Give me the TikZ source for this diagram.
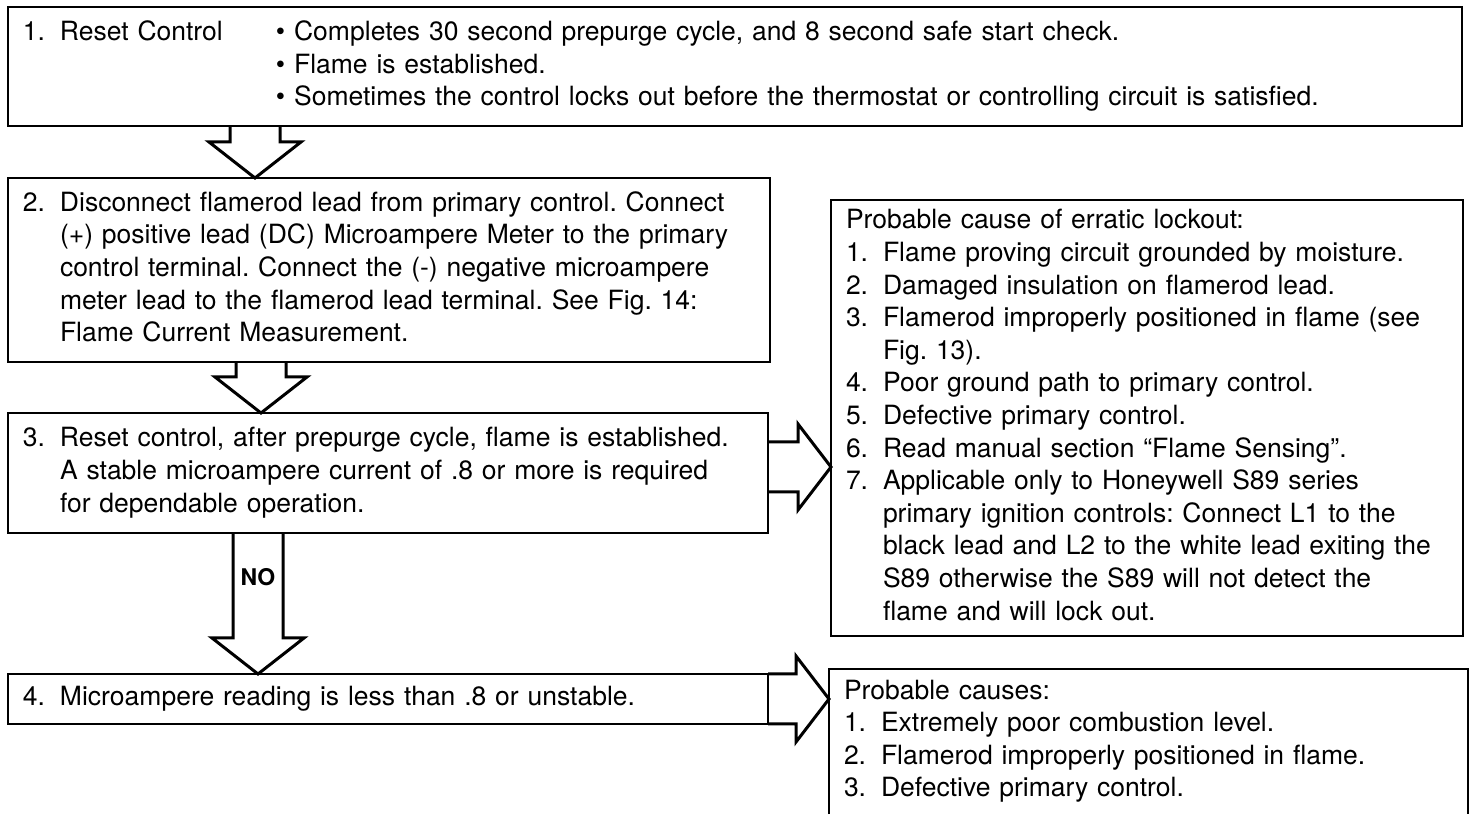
\documentclass[tikz,border=0pt]{standalone}
\usepackage{fontspec}
\setmainfont{TeX Gyre Heros}
\usetikzlibrary{calc}
\frenchspacing

\newlength{\numwd}
\setlength{\numwd}{37pt}

% fat block arrows between boxes
\newcommand{\flowdown}[3]{% from, to, centre x
    \draw [fatarrow] let \p1=(#1.south), \p2=(#2.north) in
        (#3-25,\y1) -- (#3-25,\y2+36) -- (#3-46,\y2+36) -- (#3,\y2)
        -- (#3+46,\y2+36) -- (#3+25,\y2+36) -- (#3+25,\y1);}
\newcommand{\flowright}[3]{% from, to, centre y
    \draw [fatarrow] let \p1=(#1.east), \p2=(#2.west) in
        (\x1,#3+25) -- (\x2-33,#3+25) -- (\x2-33,#3+43) -- (\x2,#3)
        -- (\x2-33,#3-43) -- (\x2-33,#3-25) -- (\x1,#3-25);}

\tikzset{
    boxline/.style={line width=2pt},
    fatarrow/.style={line width=3pt, line join=miter},
    stepbox/.style={boxline, anchor=north west, inner xsep=15pt, inner ysep=0pt,
        outer sep=0pt, align=left, font=\fontsize{26.5}{32.6}\selectfont},
}

\begin{document}
\begin{tikzpicture}[x=1pt, y=1pt]
    \useasboundingbox (0,0) rectangle (1470,814);
    \node [stepbox, draw, text width=1424pt, minimum height=119pt] (reset) at (8,807) {%
        \begin{tabular}{@{}p{\numwd}@{}p{216pt}@{}l@{}}
            1. & Reset Control & \textbullet\ Completes 30 second prepurge cycle, and 8 second safe start check.\\
               &               & \textbullet\ Flame is established.\\
               &               & \textbullet\ Sometimes the control locks out before the thermostat or controlling circuit is satisfied.
        \end{tabular}};
    \node [stepbox, draw, text width=732pt, minimum height=184pt] (meter) at (8,636) {%
        \begin{tabular}{@{}p{\numwd}@{}l@{}}
            2. & Disconnect flamerod lead from primary control. Connect\\
               & (+) positive lead (DC) Microampere Meter to the primary\\
               & control terminal. Connect the (-) negative microampere\\
               & meter lead to the flamerod lead terminal. See Fig. 14:\\
               & Flame Current Measurement.
        \end{tabular}};
    \node [stepbox, draw, text width=730pt, minimum height=120pt] (check) at (8,401) {%
        \begin{tabular}{@{}p{\numwd}@{}l@{}}
            3. & Reset control, after prepurge cycle, flame is established.\\
               & A stable microampere current of .8 or more is required\\
               & for dependable operation.
        \end{tabular}};
    \node [stepbox, draw, text width=730pt, minimum height=50pt] (low) at (8,140) {%
        \begin{tabular}{@{}p{\numwd}@{}l@{}}
            4. & Microampere reading is less than .8 or unstable.
        \end{tabular}};
    \node [stepbox, draw, text width=602pt, minimum height=436pt] (erratic) at (831,614) {%
        \begin{tabular}{@{}p{\numwd}@{}l@{}}
            \multicolumn{2}{@{}l@{}}{Probable cause of erratic lockout:}\\
            1. & Flame proving circuit grounded by moisture.\\
            2. & Damaged insulation on flamerod lead.\\
            3. & Flamerod improperly positioned in flame (see\\
               & Fig. 13).\\
            4. & Poor ground path to primary control.\\
            5. & Defective primary control.\\
            6. & Read manual section ``Flame Sensing''.\\
            7. & Applicable only to Honeywell S89 series\\
               & primary ignition controls: Connect L1 to the\\
               & black lead and L2 to the white lead exiting the\\
               & S89 otherwise the S89 will not detect the\\
               & flame and will lock out.
        \end{tabular}};
    \node [stepbox, text width=609pt, minimum height=145pt] (causes) at (829,145) {%
        \begin{tabular}{@{}p{\numwd}@{}l@{}}
            \multicolumn{2}{@{}l@{}}{Probable causes:}\\
            1. & Extremely poor combustion level.\\
            2. & Flamerod improperly positioned in flame.\\
            3. & Defective primary control.
        \end{tabular}};
    \draw [boxline] (causes.south west) -- (causes.north west)
        -- (causes.north east) -- (causes.south east);

    \flowdown{reset}{meter}{255}
    \flowdown{meter}{check}{261}
    \flowdown{check}{low}{258}
    \flowright{check}{erratic}{347}
    \flowright{low}{causes}{115}
    \node [font=\bfseries\fontsize{23}{23}\selectfont] (no) at (258,237) {NO};
\end{tikzpicture}
\end{document}
